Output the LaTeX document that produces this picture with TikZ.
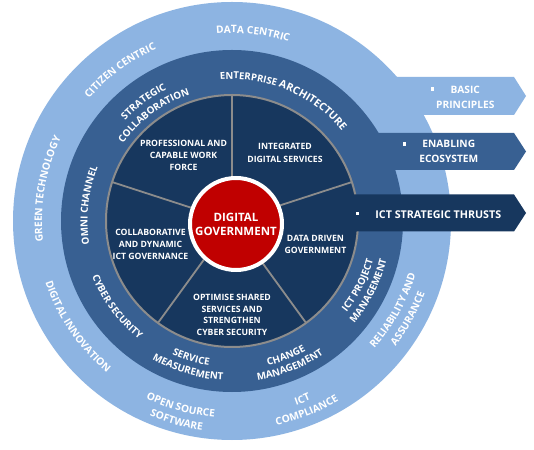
\documentclass[tikz,border=0pt]{standalone}
\usepackage{fontspec}
\setmainfont{Open Sans}
\usetikzlibrary{decorations.text,calc}
\definecolor{lightring}{RGB}{141,180,226}
\definecolor{midring}{RGB}{56,96,146}
\definecolor{darkcore}{RGB}{23,55,94}
\definecolor{segline}{RGB}{140,140,140}
\definecolor{govred}{RGB}{192,0,0}
% text reading clockwise, letter tops outward
\newcommand{\CwText}[4]{%
 \path[decorate,decoration={text along path,text align=center,
   text={|\fontsize{#3}{#3}\selectfont\bfseries\color{white}|#4}}]
   ($(C)+({#1+50}:#2pt)$) arc[start angle={#1+50},end angle={#1-50},radius=#2pt];}
% text reading counter-clockwise, letter tops inward
\newcommand{\CcwText}[4]{%
 \path[decorate,decoration={text along path,text align=center,
   text={|\fontsize{#3}{#3}\selectfont\bfseries\color{white}|#4}}]
   ($(C)+({#1-50}:#2pt)$) arc[start angle={#1-50},end angle={#1+50},radius=#2pt];}
\tikzset{
  segtext/.style={text=white,align=center,inner sep=0pt,font=\bfseries\fontsize{8.7}{12.3}\selectfont},
  bandtext/.style={text=white,align=center,inner sep=0pt,font=\bfseries\fontsize{10.2}{15}\selectfont},
  bulletbox/.style={fill=white,inner sep=0pt,minimum size=3.2pt},
  sepline/.style={draw=segline,line width=1.8pt},
}
\begin{document}
\begin{tikzpicture}[x=1pt,y=1pt]
\path[use as bounding box,fill=white] (0,0) rectangle (534,449);
\coordinate (C) at (232,228);
% basic principles band
\fill[lightring] (300,372) -- (514,372) -- (526,353) -- (514,334) -- (300,334) -- cycle;
\fill[lightring] (C) circle[radius=219pt];
% enabling ecosystem band
\fill[midring] (300,316) -- (514,316) -- (526,297.5) -- (514,279) -- (300,279) -- cycle;
\fill[midring] (C) circle[radius=171pt];
% core
\fill[darkcore] (C) circle[radius=126pt];
\foreach \a in {90,162,234,306,18} \draw[sepline] (C) -- ++(\a:126pt);
\draw[sepline,line width=2pt] (C) circle[radius=126pt];
% ICT strategic thrusts band
\fill[darkcore] (345,254.5) -- (514,254.5) -- (526,236) -- (514,217.5) -- (345,217.5) -- cycle;
% outer ring texts
\CwText{83.6}{188}{10.2}{DATA CENTRIC}
\CwText{126.6}{188}{10.2}{CITIZEN CENTRIC}
\CwText{170.2}{190}{10.2}{GREEN TECHNOLOGY}
\CcwText{214.4}{196.5}{10.2}{DIGITAL INNOVATION}
\CcwText{254.5}{197}{10.2}{OPEN SOURCE}
\CcwText{254.5}{211.5}{10.2}{SOFTWARE}
\CcwText{291.5}{195}{10.2}{ICT}
\CcwText{291.5}{209}{10.2}{COMPLIANCE}
\CcwText{331}{191}{10.2}{RELIABILITY AND}
\CcwText{331}{206}{10.2}{ASSURANCE}
% middle ring texts
\path[decorate,decoration={text along path,text align=center,
   text={|\fontsize{9.6}{9.6}\selectfont\bfseries\color{white}|ENTERPRISE |\fontsize{10.6}{10.6}\selectfont\bfseries\color{white}|ARCHITECTURE}}]
   ($(C)+(117:142pt)$) arc[start angle=117,end angle=17,radius=142pt];
\CwText{126.5}{147}{9.8}{STRATEGIC}
\CwText{126.5}{133.5}{9.8}{COLLABORATION}
\CwText{173.8}{144.5}{9.8}{OMNI CHANNEL}
\CcwText{216.7}{150.5}{9.8}{CYBER SECURITY}
\CcwText{253.4}{146.5}{9.8}{SERVICE}
\CcwText{253.4}{159.5}{9.8}{MEASUREMENT}
\CcwText{291.8}{149}{9.8}{CHANGE}
\CcwText{291.8}{161.5}{9.8}{MANAGEMENT}
\CcwText{333}{146.5}{9.8}{ICT PROJECT}
\CcwText{333}{159.5}{9.8}{MANAGEMENT}
% centre
\node[circle,fill=govred,draw=white,line width=4pt,minimum size=92pt,inner sep=0pt,
      text=white,align=center,font=\bfseries\fontsize{11.5}{14}\selectfont] (gov) at (236,225) {DIGITAL\\GOVERNMENT};
% segment texts
\node[segtext] (pro) at (183.5,293.5) {PROFESSIONAL AND\\CAPABLE WORK\\FORCE};
\node[segtext] (ids) at (285,296) {INTEGRATED\\DIGITAL SERVICES};
\node[segtext] (cdg) at (150.5,204.5) {COLLABORATIVE\\AND DYNAMIC\\ICT GOVERNANCE};
\node[segtext] (ddg) at (315.5,204.5) {DATA DRIVEN\\GOVERNMENT};
\node[segtext,font=\bfseries\fontsize{8.7}{11.5}\selectfont] (oss) at (232,134) {OPTIMISE SHARED\\SERVICES AND\\STRENGTHEN\\CYBER SECURITY};
% band texts
\node[bandtext] (bp) at (465.3,351.5) {BASIC\\PRINCIPLES};
\node[bulletbox] (bpb) at (432.3,360) {};
\node[bandtext] (ee) at (448.8,297.2) {ENABLING\\ECOSYSTEM};
\node[bulletbox] (eeb) at (404.3,305) {};
\node[bandtext,font=\bfseries\fontsize{10.7}{15}\selectfont] (ict) at (438.3,234.7) {ICT STRATEGIC THRUSTS};
\node[bulletbox] (ictb) at (357.7,235.7) {};
\end{tikzpicture}
\end{document}
